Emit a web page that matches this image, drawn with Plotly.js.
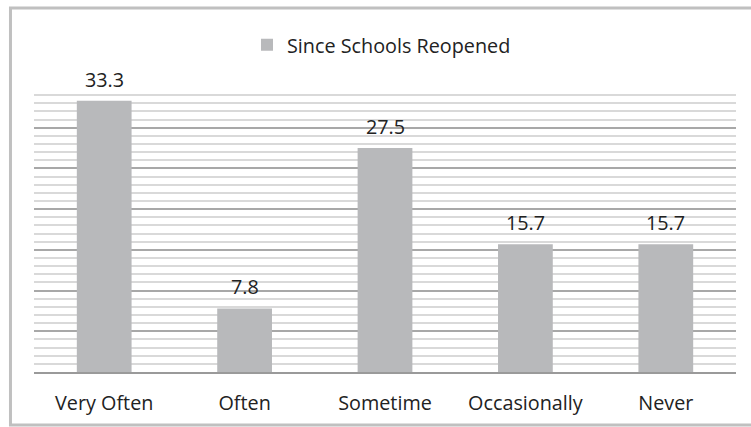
<!DOCTYPE html>
<html>
<head>
<meta charset="utf-8">
<script src="https://cdn.plot.ly/plotly-3.0.1.min.js"></script>
<style>html,body{margin:0;padding:0;background:#fff;}#chart{width:751px;height:427px;}</style>
</head>
<body>
<div id="chart"></div>
<script>
const categories = ["Very Often", "Often", "Sometime", "Occasionally", "Never"];
const values = [33.3, 7.8, 27.5, 15.7, 15.7];
const seriesName = "Since Schools Reopened";
const minorGridVals = [1,2,3,4,6,7,8,9,11,12,13,14,16,17,18,19,21,22,23,24,26,27,28,29,31,32,33,34];
const majorGridVals = [5,10,15,20,25,30,35];

const fontFam = "Open Sans, Lato, sans-serif";
const fs = 19.8;
const trace = {
  type: "bar",
  x: categories,
  y: values,
  name: seriesName,
  marker: {color: "#b8b9bb", line: {width: 0}},
  showlegend: true,
  hoverinfo: "skip"
};

const annotations = categories.map((c, i) => ({
  x: c, y: values[i], xref: "x", yref: "y",
  text: values[i].toFixed(1), showarrow: false,
  yanchor: "bottom", yshift: 6,
  font: {family: fontFam, size: fs, color: "#222"}
}));

const layout = {
  width: 751, height: 427,
  margin: {l: 34, r: 15, t: 87, b: 55},
  paper_bgcolor: "#fff", plot_bgcolor: "#fff",
  bargap: 0.61,
  showlegend: true,
  hovermode: false,
  legend: {orientation: "h", x: 0.495, xanchor: "center", xref: "paper", y: 1 - 45/427, yanchor: "middle", yref: "container",
           font: {family: fontFam, size: fs, color: "#222"}},
  xaxis: {
    type: "category", fixedrange: true,
    showgrid: false, showline: true, linecolor: "#9a9a9a", linewidth: 2,
    ticks: "", ticklabelstandoff: 12,
    tickfont: {family: fontFam, size: fs, color: "#222"}
  },
  yaxis: {
    range: [0, 35], fixedrange: true, tickmode: "array", tickvals: majorGridVals, showticklabels: false, ticks: "",
    showgrid: true, gridcolor: "#a8a8a8", gridwidth: 2,
    zeroline: false, showline: false,
    minor: {tickmode: "array", tickvals: minorGridVals, showgrid: true, gridcolor: "#d9d9d9", gridwidth: 2, ticks: ""}
  },
  annotations: annotations,
  shapes: [{type: "rect", xref: "paper", yref: "paper", x0: -0.0335, x1: 1.1, y0: -0.186, y1: 1.277,
            line: {color: "#c0c0c0", width: 3}, fillcolor: "rgba(0,0,0,0)", layer: "below"}]
};

Plotly.newPlot("chart", [trace], layout, {displayModeBar: false});
</script>
</body>
</html>
